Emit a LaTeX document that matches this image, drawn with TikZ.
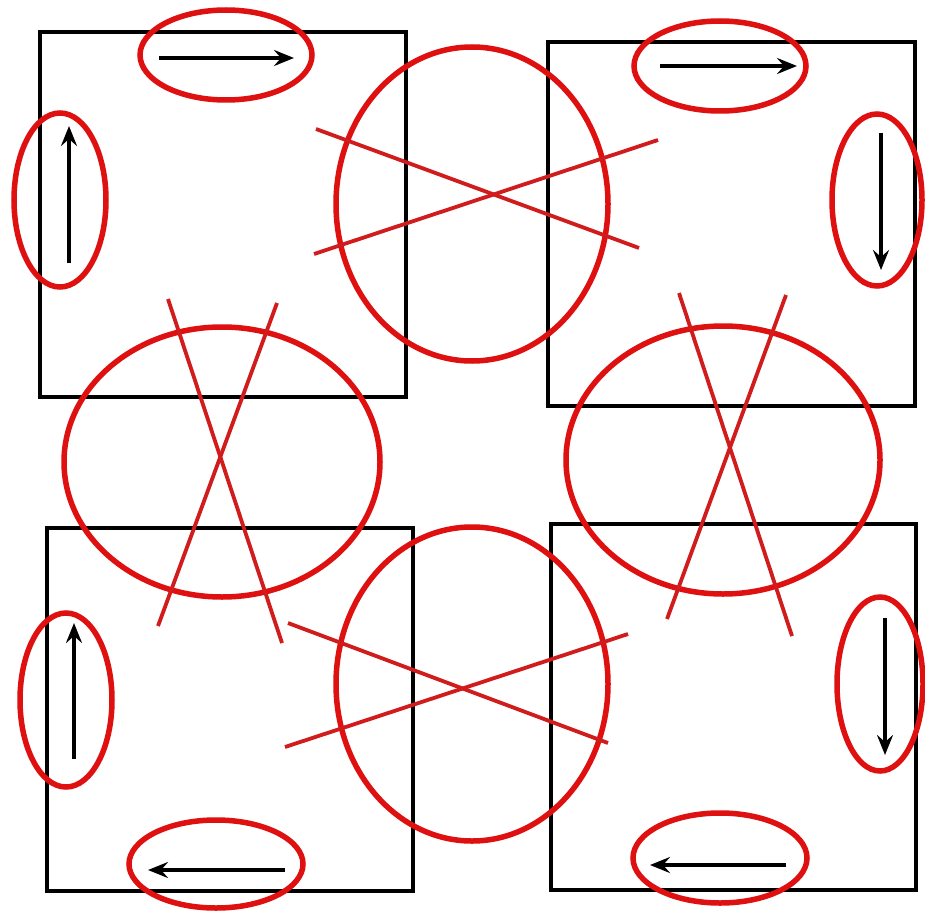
\documentclass[tikz,border=0pt]{standalone}
\usetikzlibrary{arrows.meta}
\definecolor{mark}{RGB}{222,16,16}
\definecolor{markdark}{RGB}{208,28,28}
\begin{document}
\begin{tikzpicture}[x=1pt,y=-1pt,
  box/.style={draw=black,line width=4.3pt},
  ring/.style={draw=mark,line width=5.5pt},
  cross/.style={draw=markdark,line width=3.8pt},
  flow/.style={draw=black,line width=4.3pt,-{Stealth[length=20pt,width=16pt,inset=7pt]}}]
\useasboundingbox[fill=white] (0,0) rectangle (925,912);
% squares
\draw[box] (40,32) rectangle (406,397);
\draw[box] (548,42) rectangle (915,406);
\draw[box] (47,528) rectangle (413,891);
\draw[box] (551,524) rectangle (916,890);
% big ellipses
\draw[ring] (472,204) ellipse [x radius=136,y radius=157];
\draw[ring] (472,684) ellipse [x radius=136,y radius=157];
\draw[ring] (222,462) ellipse [x radius=158,y radius=135];
\draw[ring] (723,460) ellipse [x radius=157,y radius=134];
% crossing lines
\coordinate (t1a) at (316,129); \coordinate (t1b) at (639,248);
\coordinate (t2a) at (314,254); \coordinate (t2b) at (658,140);
\draw[cross] (t1a) -- (t1b); \draw[cross] (t2a) -- (t2b);
\coordinate (b1a) at (288,623); \coordinate (b1b) at (608,743);
\coordinate (b2a) at (285,747); \coordinate (b2b) at (628,634);
\draw[cross] (b1a) -- (b1b); \draw[cross] (b2a) -- (b2b);
\coordinate (l1a) at (168,299); \coordinate (l1b) at (282,643);
\coordinate (l2a) at (277,303); \coordinate (l2b) at (158,626);
\draw[cross] (l1a) -- (l1b); \draw[cross] (l2a) -- (l2b);
\coordinate (r1a) at (679,293); \coordinate (r1b) at (792,636);
\coordinate (r2a) at (786,295); \coordinate (r2b) at (667,619);
\draw[cross] (r1a) -- (r1b); \draw[cross] (r2a) -- (r2b);
% small ellipses
\draw[ring] (226,55) ellipse [x radius=86,y radius=45];
\draw[ring] (60,200) ellipse [x radius=46,y radius=87];
\draw[ring] (720,66) ellipse [x radius=86,y radius=45];
\draw[ring] (877,200) ellipse [x radius=45,y radius=86];
\draw[ring] (66,700) ellipse [x radius=46,y radius=87];
\draw[ring] (216,864) ellipse [x radius=87,y radius=44];
\draw[ring] (880,684) ellipse [x radius=43,y radius=87];
\draw[ring] (720,858) ellipse [x radius=87,y radius=45];
% arrows
\coordinate (a1s) at (159,58); \coordinate (a1e) at (294,58);
\draw[flow] (a1s) -- (a1e);
\coordinate (a2s) at (69,263); \coordinate (a2e) at (69,126);
\draw[flow] (a2s) -- (a2e);
\coordinate (a3s) at (660,66); \coordinate (a3e) at (797,66);
\draw[flow] (a3s) -- (a3e);
\coordinate (a4s) at (881,133); \coordinate (a4e) at (881,270);
\draw[flow] (a4s) -- (a4e);
\coordinate (a5s) at (74,759); \coordinate (a5e) at (74,623);
\draw[flow] (a5s) -- (a5e);
\coordinate (a6s) at (285,870); \coordinate (a6e) at (148,870);
\draw[flow] (a6s) -- (a6e);
\coordinate (a7s) at (885,618); \coordinate (a7e) at (885,755);
\draw[flow] (a7s) -- (a7e);
\coordinate (a8s) at (786,865); \coordinate (a8e) at (650,865);
\draw[flow] (a8s) -- (a8e);
\end{tikzpicture}
\end{document}
